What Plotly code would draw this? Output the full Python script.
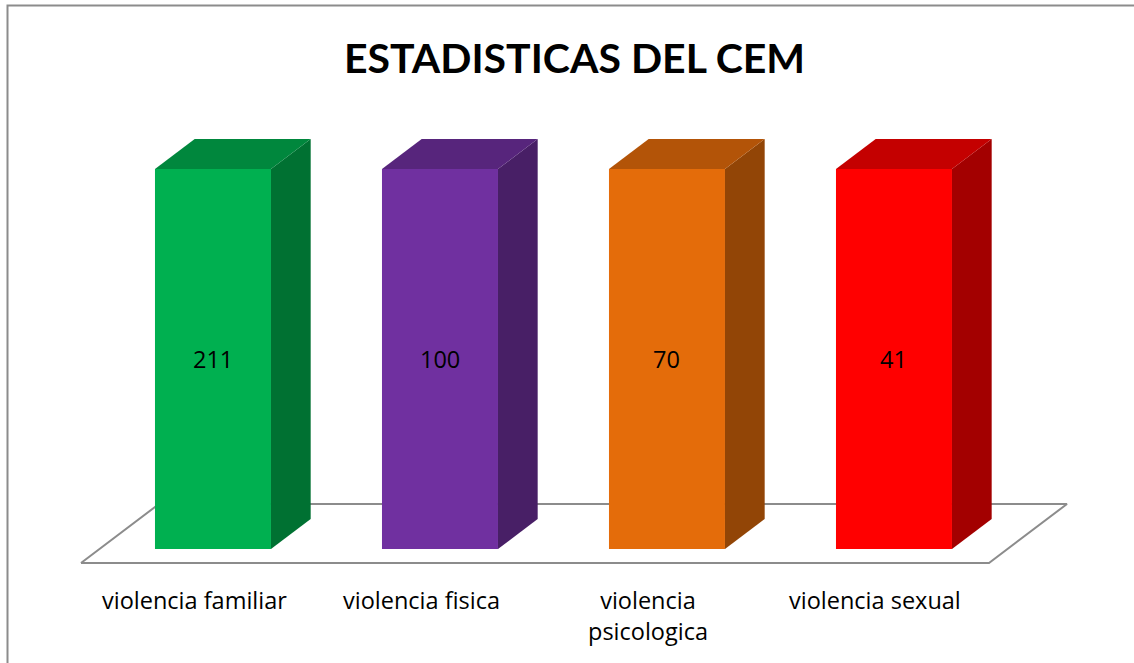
import plotly.graph_objects as go

# ---- data ----
categories = ["violencia familiar", "violencia fisica", "violencia<br>psicologica", "violencia sexual"]
counts = [211, 100, 70, 41]
# Column heights as drawn (100% stacked column: each category is its own total)
shares = [100, 100, 100, 100]
title_text = "ESTADISTICAS DEL CEM"

front_colors = ["#00B050", "#7030A0", "#E46C0A", "#FF0000"]
top_colors = ["#00873D", "#57257C", "#B35408", "#C40000"]
side_colors = ["#007132", "#481F66", "#924506", "#A30000"]

# ---- 3D projection styling ----
DX = 0.3436   # x shift (category units) per unit of depth
DY = 15.53    # y shift (value units) per unit of depth
D0, D1 = 0.237, 0.746   # bar depth span (0 = floor front, 1 = floor back)
HALF = 0.2555           # half bar width in category units
FONT = "'Open Sans', sans-serif"
TFONT = "Lato, sans-serif"

fig = go.Figure()

# floor
fx = [-0.5, 3.5, 3.5 + DX, -0.5 + DX, -0.5]
fy = [0, 0, DY, DY, 0]
fig.add_trace(go.Scatter(x=fx, y=fy, mode="lines", line=dict(color="#8c8c8c", width=2),
                         hoverinfo="skip", showlegend=False))

for i, (h, n) in enumerate(zip(shares, counts)):
    cx = i + D0 * DX
    y0 = D0 * DY
    xl, xr = cx - HALF, cx + HALF
    ddx = (D1 - D0) * DX
    ddy = (D1 - D0) * DY
    # front face
    fig.add_trace(go.Scatter(x=[xl, xr, xr, xl, xl], y=[y0, y0, y0 + h, y0 + h, y0],
                             fill="toself", fillcolor=front_colors[i], mode="lines",
                             line=dict(width=0, color=front_colors[i]),
                             hoverinfo="skip", showlegend=False))
    # side face
    fig.add_trace(go.Scatter(x=[xr, xr + ddx, xr + ddx, xr, xr],
                             y=[y0, y0 + ddy, y0 + ddy + h, y0 + h, y0],
                             fill="toself", fillcolor=side_colors[i], mode="lines",
                             line=dict(width=0, color=side_colors[i]),
                             hoverinfo="skip", showlegend=False))
    # top face
    fig.add_trace(go.Scatter(x=[xl, xr, xr + ddx, xl + ddx, xl],
                             y=[y0 + h, y0 + h, y0 + h + ddy, y0 + h + ddy, y0 + h],
                             fill="toself", fillcolor=top_colors[i], mode="lines",
                             line=dict(width=0, color=top_colors[i]),
                             hoverinfo="skip", showlegend=False))
    # value label
    fig.add_annotation(x=cx, y=y0 + h / 2, text=str(n), showarrow=False,
                       font=dict(family=FONT, size=23.5, color="black"),
                       xanchor="center", yanchor="middle")
    # category label
    fig.add_annotation(x=i, y=-5.0, text=categories[i], showarrow=False,
                       font=dict(family=FONT, size=23.5, color="black"),
                       xanchor="center", yanchor="top")

fig.add_annotation(xref="paper", yref="paper", x=0.507, y=1 - 57 / 663, text="<b>%s</b>" % title_text,
                   showarrow=False, font=dict(family=TFONT, size=41, color="black"),
                   xanchor="center", yanchor="middle")

fig.add_shape(type="rect", xref="paper", yref="paper",
              x0=7.5 / 1134, x1=1.02, y0=-0.02, y1=1 - 5.5 / 663,
              line=dict(color="#8c8c8c", width=2), fillcolor="rgba(0,0,0,0)")

fig.update_layout(
    width=1134, height=663,
    margin=dict(l=0, r=0, t=0, b=0),
    paper_bgcolor="white", plot_bgcolor="white",
    xaxis=dict(range=[-0.8568, 4.1388], visible=False, fixedrange=True),
    yaxis=dict(range=[-26.32, 148.16], visible=False, fixedrange=True),
    showlegend=False,
)

fig.write_html("out.html", config={"displayModeBar": False},
               post_script="document.body.style.margin='0';document.body.style.overflow='hidden';")
